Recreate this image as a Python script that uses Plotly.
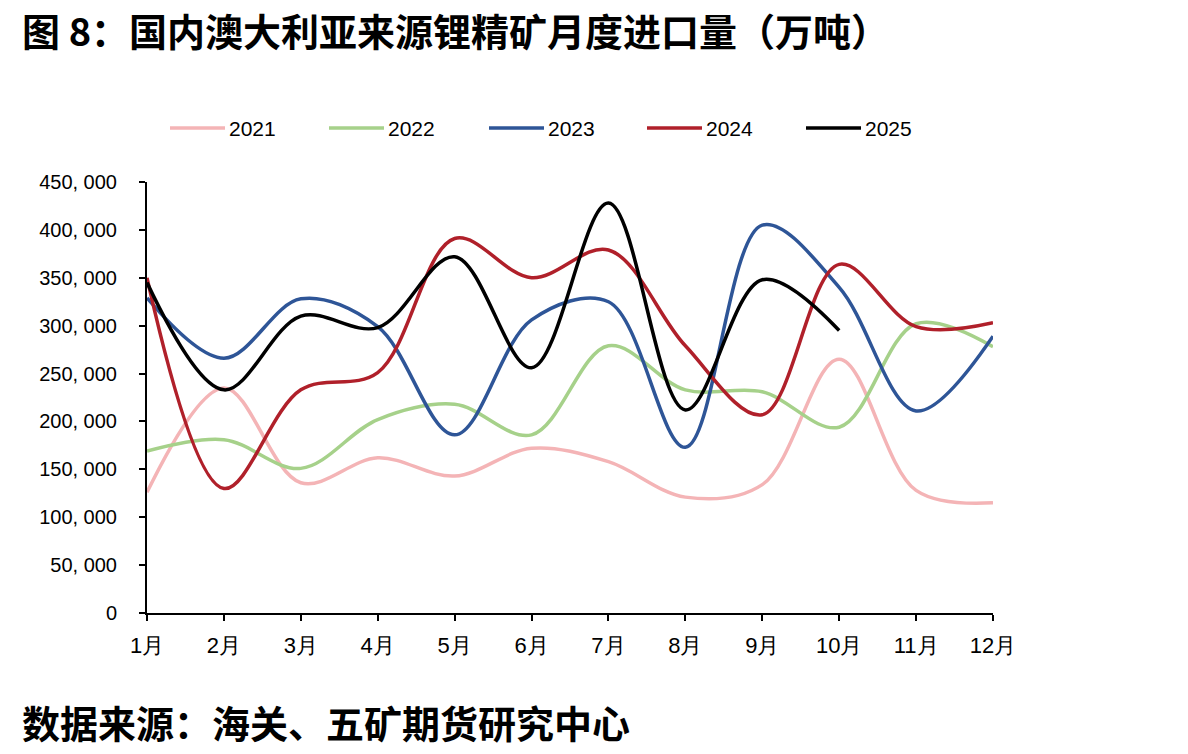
import plotly.graph_objects as go

months = ["1月", "2月", "3月", "4月", "5月", "6月", "7月", "8月", "9月", "10月", "11月", "12月"]
x_pos = list(range(1, 13))

y2021 = [126000, 235000, 136000, 162000, 143000, 172000, 158000, 121000, 134000, 265000, 128000, 115000]
y2022 = [169000, 181000, 151000, 202000, 218000, 186000, 279000, 233000, 231000, 194000, 302000, 278000]
y2023 = [329000, 266000, 328000, 299000, 186000, 306000, 325000, 173000, 405000, 340000, 211000, 289000]
y2024 = [350000, 130000, 233000, 251000, 391000, 350000, 379000, 279000, 207000, 364000, 299000, 303000]
y2025 = [345000, 233000, 310000, 298000, 372000, 256000, 428000, 212000, 348000, 295000]

series_names = ["2021", "2022", "2023", "2024", "2025"]
series_vals = [y2021, y2022, y2023, y2024, y2025]
colors = ["#F4B4B6", "#A6D18A", "#2E5597", "#B0202A", "#000000"]

y_tickvals = [0, 50000, 100000, 150000, 200000, 250000, 300000, 350000, 400000, 450000]
y_ticktext = ["0", "50, 000", "100, 000", "150, 000", "200, 000", "250, 000",
              "300, 000", "350, 000", "400, 000", "450, 000"]

title_text = "图 8：国内澳大利亚来源锂精矿月度进口量（万吨）"
source_text = "数据来源：海关、五矿期货研究中心"

W, H = 1188, 754
L, R, T, B = 147, 993, 182, 613

def px_x(px):
    return (px - L) / (R - L)

def px_y(py):
    return (B - py) / (B - T)

fig = go.Figure()
for name, vals, col in zip(series_names, series_vals, colors):
    fig.add_trace(go.Scatter(
        x=x_pos[:len(vals)], y=vals, mode="lines", name=name,
        line=dict(color=col, width=3.5, shape="spline", smoothing=1.0),
        showlegend=False,
    ))

num_font = "Liberation Sans, Arial, sans-serif"
cjk_font = "Noto Sans CJK SC, sans-serif"

# custom legend
leg_starts = [170, 329, 489, 647, 806]
leg_y = 128
shapes = []
annotations = []
for name, col, sx in zip(series_names, colors, leg_starts):
    shapes.append(dict(type="line", xref="paper", yref="paper",
                       x0=px_x(sx), x1=px_x(sx + 55), y0=px_y(leg_y), y1=px_y(leg_y),
                       line=dict(color=col, width=3.5)))
    annotations.append(dict(xref="paper", yref="paper", x=px_x(sx + 57), y=px_y(leg_y),
                            xanchor="left", yanchor="middle", showarrow=False,
                            text=name, font=dict(family=num_font, size=21, color="#000")))

annotations.append(dict(xref="paper", yref="paper", x=px_x(20), y=px_y(30),
                        xanchor="left", yanchor="middle", showarrow=False,
                        text="<b>" + title_text + "</b>",
                        font=dict(family=cjk_font, size=38, color="#000")))
annotations.append(dict(xref="paper", yref="paper", x=px_x(20), y=px_y(721),
                        xanchor="left", yanchor="middle", showarrow=False,
                        text="<b>" + source_text + "</b>",
                        font=dict(family=cjk_font, size=38, color="#000")))

fig.update_layout(
    width=W, height=H,
    margin=dict(l=L, r=W - R, t=T, b=H - B, pad=0),
    paper_bgcolor="white", plot_bgcolor="white",
    shapes=shapes, annotations=annotations,
    showlegend=False,
)
fig.update_xaxes(range=[1, 12], tickvals=x_pos, ticktext=months, showgrid=False, zeroline=False,
                 showline=True, linecolor="#000", linewidth=2, ticks="outside", ticklen=6,
                 tickwidth=2, tickcolor="#000", ticklabelstandoff=6,
                 tickfont=dict(family=num_font, size=22, color="#000"))
fig.update_yaxes(range=[0, 450000], tickvals=y_tickvals, ticktext=y_ticktext, showgrid=False,
                 zeroline=False, showline=True, linecolor="#000", linewidth=2, ticks="outside",
                 ticklen=6, tickwidth=2, tickcolor="#000", ticklabelstandoff=18,
                 tickfont=dict(family=num_font, size=20, color="#000"))

fig.write_html("out.html")
